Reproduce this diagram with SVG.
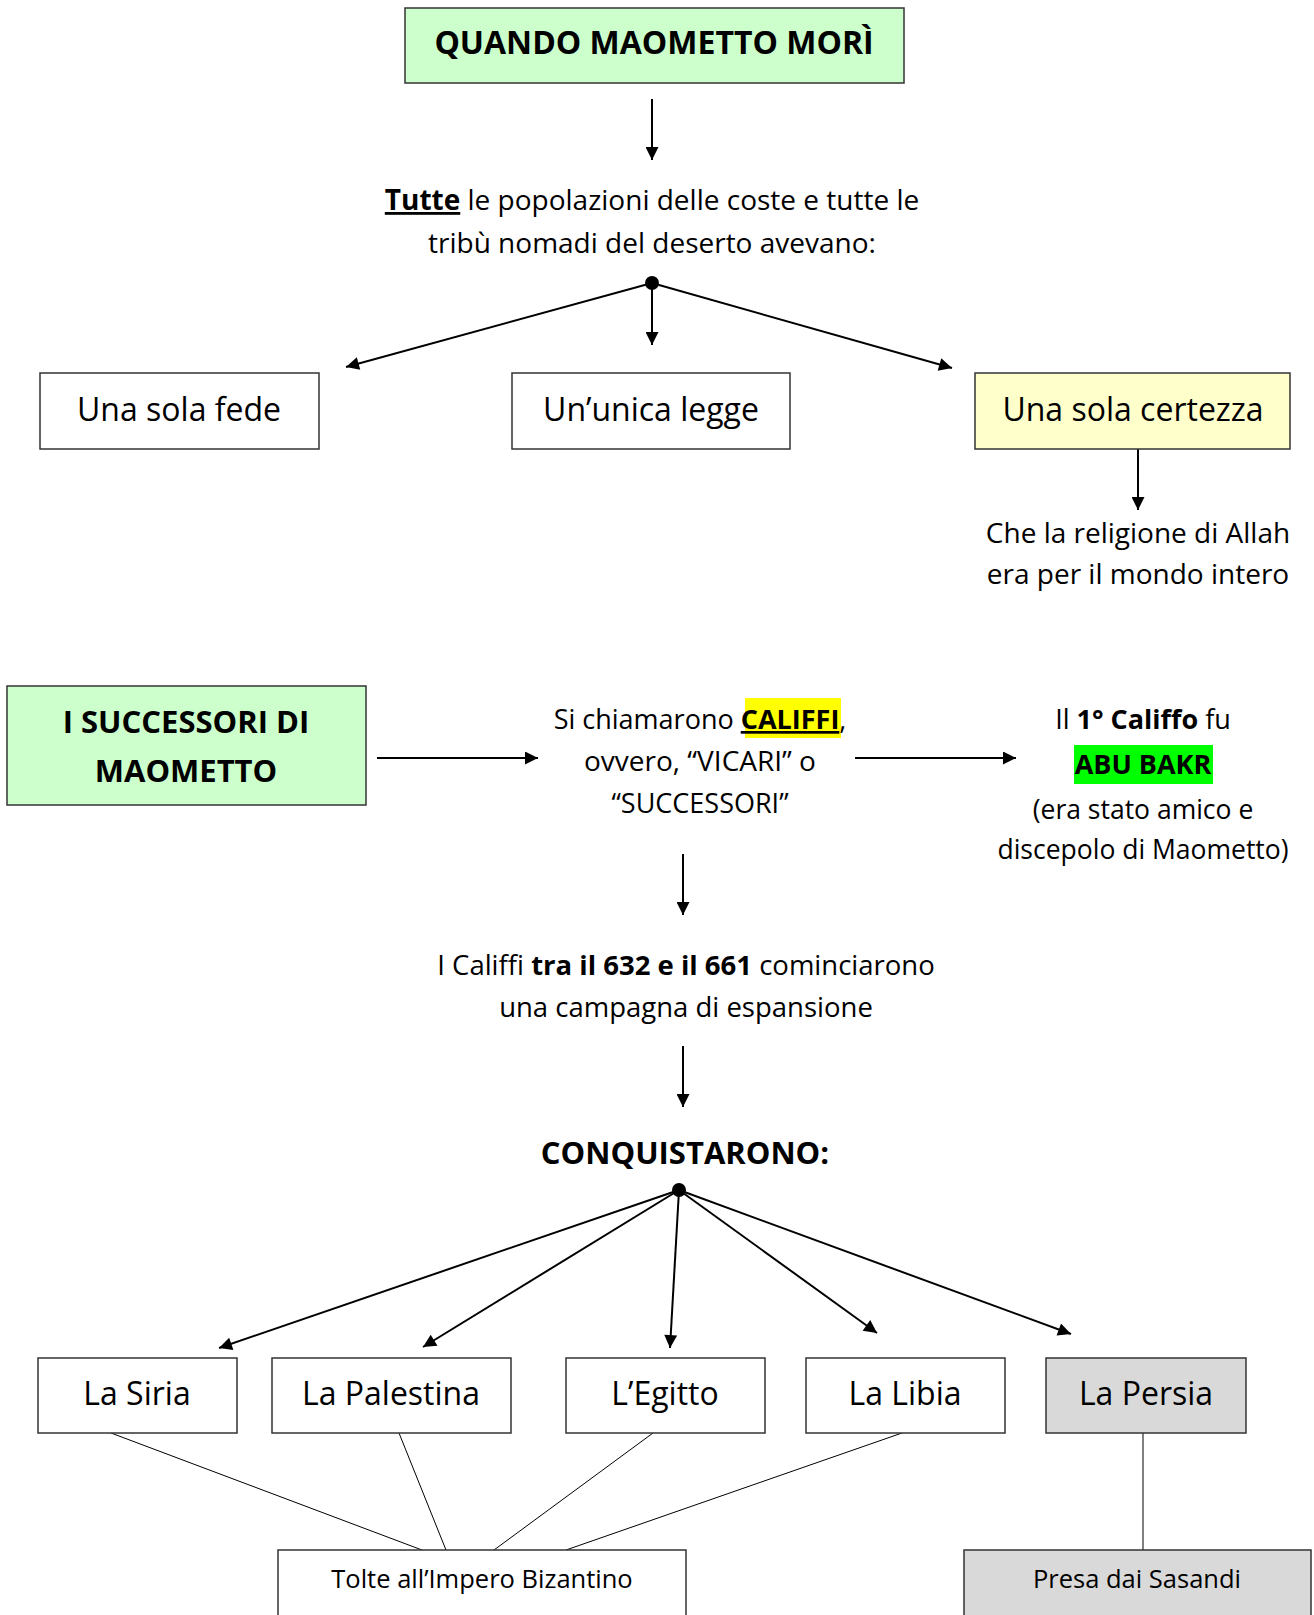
<svg xmlns="http://www.w3.org/2000/svg" width="1314" height="1615" viewBox="0 0 1314 1615">
<style>
text{font-family:"Open Sans","Noto Sans",sans-serif;fill:#000;}
.b{font-weight:bold;}
.c{text-anchor:middle;}
.box{fill:#fff;stroke:#333;stroke-width:1.5;}
.green{fill:#CCFFCC;}
.yel{fill:#FFFFCC;}
.grey{fill:#D9D9D9;}
.arr{stroke:#000;stroke-width:2;fill:none;marker-end:url(#ah);}
.ln{stroke:#000;stroke-width:1;fill:none;}
.t28{font-size:28px;}
.t27{font-size:27px;}
.t32{font-size:32px;}
.h31{font-size:31px;font-weight:bold;}
</style>
<defs>
<marker id="ah" viewBox="0 0 10 10" refX="10" refY="5" markerWidth="18" markerHeight="13" markerUnits="userSpaceOnUse" orient="auto">
<path d="M0,0 L10,5 L0,10 z" fill="#000"/>
</marker>
</defs>
<rect width="1314" height="1615" fill="#fff"/>

<g id="connectors">
<line class="arr" x1="652" y1="99" x2="652" y2="160"/>
<circle cx="652" cy="283" r="7" fill="#000"/>
<line class="arr" x1="652" y1="283" x2="346" y2="367"/>
<line class="arr" x1="652" y1="283" x2="652" y2="345"/>
<line class="arr" x1="652" y1="283" x2="952" y2="368"/>
<line class="arr" x1="1138" y1="449" x2="1138" y2="510"/>
<line class="arr" x1="377" y1="758" x2="538" y2="758"/>
<line class="arr" x1="855" y1="758" x2="1016" y2="758"/>
<line class="arr" x1="683" y1="854" x2="683" y2="915"/>
<line class="arr" x1="683" y1="1046" x2="683" y2="1107"/>
<circle cx="679" cy="1190" r="7" fill="#000"/>
<line class="arr" x1="679" y1="1190" x2="219" y2="1348"/>
<line class="arr" x1="679" y1="1190" x2="423" y2="1347"/>
<line class="arr" x1="679" y1="1190" x2="670" y2="1348"/>
<line class="arr" x1="679" y1="1190" x2="877" y2="1333"/>
<line class="arr" x1="679" y1="1190" x2="1071" y2="1334"/>
<line class="ln" x1="111" y1="1433" x2="422" y2="1550"/>
<line class="ln" x1="399" y1="1433" x2="446" y2="1550"/>
<line class="ln" x1="653" y1="1433" x2="494" y2="1550"/>
<line class="ln" x1="902" y1="1433" x2="566" y2="1550"/>
<line class="ln" x1="1143" y1="1433" x2="1143" y2="1550"/>
</g>

<g id="n-title">
<rect class="box green" x="405" y="8" width="499" height="75"/>
<text class="c h31" x="654" y="54" style="font-size:32px">QUANDO MAOMETTO MORÌ</text>
</g>

<g id="n-tutte">
<text class="c t28" x="652" y="210"><tspan class="b" text-decoration="underline">Tutte</tspan> le popolazioni delle coste e tutte le</text>
<text class="c t28" x="652" y="253">tribù nomadi del deserto avevano:</text>
</g>

<g id="n-fede">
<rect class="box" x="40" y="373" width="279" height="76"/>
<text class="c t32" x="179" y="421">Una sola fede</text>
</g>
<g id="n-legge">
<rect class="box" x="512" y="373" width="278" height="76"/>
<text class="c t32" x="651" y="421">Un’unica legge</text>
</g>
<g id="n-certezza">
<rect class="box yel" x="975" y="373" width="315" height="76"/>
<text class="c t32" x="1133" y="421">Una sola certezza</text>
</g>

<g id="n-allah">
<text class="c t28" x="1138" y="543">Che la religione di Allah</text>
<text class="c t28" x="1138" y="584">era per il mondo intero</text>
</g>

<g id="n-successori">
<rect class="box green" x="7" y="686" width="359" height="119"/>
<text class="c h31" x="186" y="733">I SUCCESSORI DI</text>
<text class="c h31" x="186" y="782">MAOMETTO</text>
</g>

<g id="n-califfi">
<rect x="745" y="698" width="96" height="40" fill="#FFFF00"/>
<text class="c t27" x="700" y="729">Si chiamarono <tspan class="b" text-decoration="underline">CALIFFI</tspan>,</text>
<text class="c" x="700" y="771" style="font-size:28px">ovvero, “VICARI” o</text>
<text class="c t27" x="700" y="813">“SUCCESSORI”</text>
</g>

<g id="n-abubakr">
<rect x="1074" y="745" width="139" height="39" fill="#00FF00"/>
<text class="c t27" x="1143" y="729">Il <tspan class="b">1° Califfo</tspan> fu</text>
<text class="c t27 b" x="1143" y="774">ABU BAKR</text>
<text class="c" x="1143" y="819" style="font-size:26.5px">(era stato amico e</text>
<text class="c" x="1143" y="859" style="font-size:26.5px">discepolo di Maometto)</text>
</g>

<g id="n-campagna">
<text class="c" x="686" y="975" style="font-size:27.5px">I Califfi <tspan class="b">tra il 632 e il 661</tspan> cominciarono</text>
<text class="c" x="686" y="1017" style="font-size:27.5px">una campagna di espansione</text>
</g>

<g id="n-conquistarono">
<text class="c h31" x="685" y="1164">CONQUISTARONO:</text>
</g>

<g id="n-siria">
<rect class="box" x="38" y="1358" width="199" height="75"/>
<text class="c t32" x="137" y="1405">La Siria</text>
</g>
<g id="n-palestina">
<rect class="box" x="272" y="1358" width="239" height="75"/>
<text class="c t32" x="391" y="1405">La Palestina</text>
</g>
<g id="n-egitto">
<rect class="box" x="566" y="1358" width="199" height="75"/>
<text class="c t32" x="665" y="1405">L’Egitto</text>
</g>
<g id="n-libia">
<rect class="box" x="806" y="1358" width="199" height="75"/>
<text class="c t32" x="905" y="1405">La Libia</text>
</g>
<g id="n-persia">
<rect class="box grey" x="1046" y="1358" width="200" height="75"/>
<text class="c t32" x="1146" y="1405">La Persia</text>
</g>

<g id="n-bizantino">
<rect class="box" x="278" y="1550" width="408" height="80"/>
<text class="c" x="482" y="1588" style="font-size:25.5px">Tolte all’Impero Bizantino</text>
</g>
<g id="n-sasandi">
<rect class="box grey" x="964" y="1550" width="347" height="80"/>
<text class="c" x="1137" y="1588" style="font-size:25.5px">Presa dai Sasandi</text>
</g>
</svg>
